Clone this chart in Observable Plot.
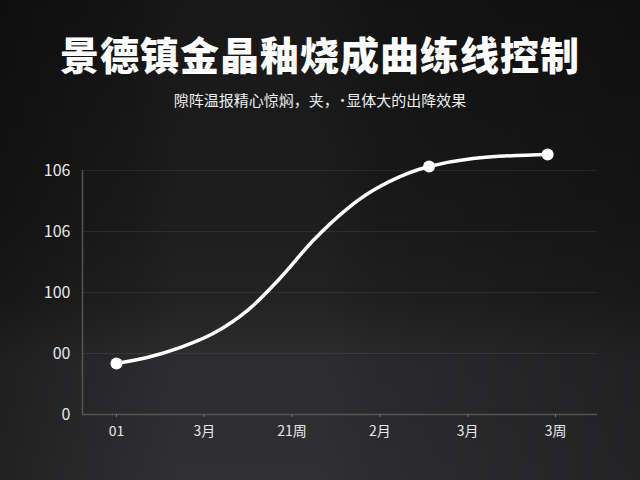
<!DOCTYPE html>
<html><head><meta charset="utf-8">
<script src="https://cdn.jsdelivr.net/npm/d3@7"></script>
<script src="https://cdn.jsdelivr.net/npm/@observablehq/plot@0.6"></script>
<style>
html,body{margin:0;padding:0;}
body{width:640px;height:480px;overflow:hidden;position:relative;
  font-family:"Noto Sans CJK SC","Noto Sans",sans-serif;
  background:
    linear-gradient(to right, rgba(0,0,0,0.25) 0%, rgba(0,0,0,0) 20%, rgba(255,255,255,0.02) 28%, rgba(255,255,255,0.02) 50%, rgba(0,0,0,0) 60%, rgba(0,0,0,0.2) 100%),
    linear-gradient(to bottom, #131313 0%, #19191a 45%, #1e1e1f 62%, #29292b 75%, #2c2c2e 100%);
}
#title{position:absolute;left:0;top:27px;width:640px;text-align:center;color:#fff;
  font-size:39px;font-weight:900;line-height:52px;letter-spacing:1px;}
#subtitle{position:absolute;left:0;top:89px;width:640px;text-align:center;color:#eee;
  font-size:15px;line-height:22px;}
#chart{position:absolute;left:0;top:130px;}
</style></head>
<body>
<div id="title">景德镇金晶釉烧成曲练线控制</div>
<div id="subtitle">隙阵温报精心惊焖，夹，˙显体大的出降效果</div>
<div id="chart"></div>
<script>
const xTicks = [0, 1, 2, 3, 4, 5];
const xLabels = ["01", "3月", "21周", "2月", "3月", "3周"];
const yTicks = [0, 300, 600, 900, 1200];
const yLabels = ["0", "00", "100", "106", "106"];
const xDomain = [-0.387, 5.478];
const yDomain = [0, 1200];
const curveX = [0, 0.35, 0.73, 1.10, 1.49, 1.86, 2.24, 2.63, 2.92, 3.31, 3.56, 4.06, 4.91];
const curveY = [251, 280, 330, 398, 511, 669, 856, 1013, 1102, 1185, 1220, 1259, 1279];
const markerX = [0, 3.56, 4.91];
const markerY = [251, 1220, 1279];

const curve = curveX.map((x, i) => ({x, y: curveY[i]}));
const markers = markerX.map((x, i) => ({x, y: markerY[i]}));

const chart = Plot.plot({
  width: 640,
  height: 324,
  marginLeft: 82,
  marginRight: 43,
  marginTop: 40,
  marginBottom: 40,
  style: {background: "transparent", color: "#e8e8e8", fontFamily: "'Noto Sans CJK SC','Noto Sans',sans-serif"},
  x: {domain: xDomain, axis: null},
  y: {domain: yDomain, axis: null},
  marks: [
    Plot.gridY(yTicks, {stroke: "#ffffff", strokeOpacity: 0.07, strokeWidth: 1}),
    Plot.ruleX([xDomain[0]], {stroke: "#555", strokeWidth: 1.5}),
    Plot.ruleY([yDomain[0]], {stroke: "#555", strokeWidth: 1.5}),
    Plot.axisY(yTicks, {tickSize: 0, tickPadding: 12, fontSize: 16, fill: "#e8e8e8",
      tickFormat: d => yLabels[yTicks.indexOf(d)], label: null}),
    Plot.axisX(xTicks, {tickSize: 3, tickPadding: 9, fontSize: 14, stroke: "#777", fill: "#e8e8e8",
      tickFormat: d => xLabels[xTicks.indexOf(d)], label: null}),
    Plot.line(curve, {x: "x", y: "y", curve: "catmull-rom", stroke: "#ffffff", strokeWidth: 3.5}),
    Plot.dot(markers, {x: "x", y: "y", r: 6, fill: "#ffffff", stroke: "none"})
  ]
});
document.getElementById("chart").appendChild(chart);
</script>
</body></html>
